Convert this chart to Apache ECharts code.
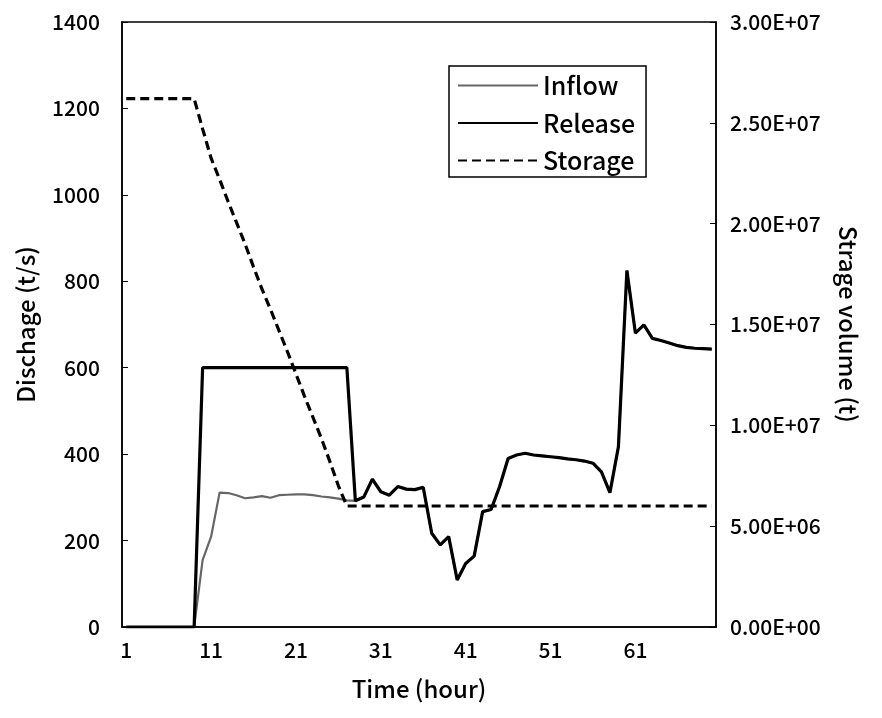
<!DOCTYPE html>
<html>
<head>
<meta charset="utf-8">
<script src="https://cdn.jsdelivr.net/npm/echarts@6/dist/echarts.min.js"></script>
<style>
html,body{margin:0;padding:0;background:#fff;}
#chart{width:882px;height:718px;}
</style>
</head>
<body>
<div id="chart"></div>
<script>
// ---- data ----
const hours = [];
for (let h = 1; h <= 70; h++) hours.push(String(h));

const inflow = [
  0,0,0,0,0,0,0,0,0,
  155,209,311,310,305,298,300,303,299,305,306,307,307,305,302,300,297,293,
  292,301,342,313,305,325,319,318,323,
  217,190,209,109,147,164,267,272,325,
  390,398,402,398,396,394,392,389,387,384,
  379,359,311,417,825,680,699,668,663,657,
  651,647,645,644,643
];

const release = [
  0,0,0,0,0,0,0,0,0,
  600,600,600,600,600,600,600,600,600,600,600,600,600,600,600,600,600,600,
  292,301,342,313,305,325,319,318,323,
  217,190,209,109,147,164,267,272,325,
  390,398,402,398,396,394,392,389,387,384,
  379,359,311,417,825,680,699,668,663,657,
  651,647,645,644,643
];

const storage = [
  2.62e7,2.62e7,2.62e7,2.62e7,2.62e7,2.62e7,2.62e7,2.62e7,2.62e7,
  2.47e7,2.325e7,2.22e7,2.11e7,2.005e7,1.90e7,1.785e7,1.675e7,1.575e7,
  1.47e7,1.365e7,1.255e7,1.145e7,1.04e7,9.35e6,8.2e6,7.0e6,6.0e6,
  6.0e6,6.0e6,6.0e6,6.0e6,6.0e6,6.0e6,6.0e6,6.0e6,6.0e6,6.0e6,
  6.0e6,6.0e6,6.0e6,6.0e6,6.0e6,6.0e6,6.0e6,6.0e6,6.0e6,6.0e6,
  6.0e6,6.0e6,6.0e6,6.0e6,6.0e6,6.0e6,6.0e6,6.0e6,6.0e6,6.0e6,
  6.0e6,6.0e6,6.0e6,6.0e6,6.0e6,6.0e6,6.0e6,6.0e6,6.0e6,6.0e6,
  6.0e6,6.0e6,6.0e6
];

const seriesNames = ['Inflow', 'Release', 'Storage'];
const xTitle = 'Time (hour)';
const yLeftTitle = 'Dischage (t/s)';
const yRightTitle = 'Strage volume (t)';

// ---- chart ----
function sci(v) {
  if (v === 0) return '0.00E+00';
  const e = Math.floor(Math.log10(Math.abs(v)));
  const m = v / Math.pow(10, e);
  return m.toFixed(2) + 'E' + (e >= 0 ? '+' : '-') + String(Math.abs(e)).padStart(2, '0');
}

const FONT = '"Noto Sans CJK JP", "Noto Sans", sans-serif';
const tick = { color: '#000', fontFamily: FONT, fontSize: 21, fontWeight: 500 };
const title = { color: '#000', fontFamily: FONT, fontSize: 24, fontWeight: 500 };

const chart = echarts.init(document.getElementById('chart'), null, { renderer: 'canvas' });
chart.setOption({
  animation: false,
  backgroundColor: '#fff',
  textStyle: { fontFamily: FONT, color: '#000' },
  grid: {
    left: 122, right: 166, top: 22, bottom: 91,
    show: true, borderColor: '#000', borderWidth: 1.5, containLabel: false
  },
  legend: {
    data: seriesNames,
    orient: 'vertical',
    left: 449, top: 66,
    itemWidth: 80, itemHeight: 25, itemGap: 12.5,
    padding: [7, 11, 4, 8],
    borderColor: '#000', borderWidth: 1.5,
    backgroundColor: '#fff',
    itemStyle: { color: 'rgba(0,0,0,0)', borderWidth: 0, opacity: 0 },
    textStyle: { color: '#000', fontFamily: FONT, fontSize: 25, fontWeight: 500 }
  },
  xAxis: {
    type: 'category',
    data: hours,
    boundaryGap: true,
    name: xTitle,
    nameLocation: 'middle',
    nameGap: 50,
    nameTextStyle: title,
    axisLine: { lineStyle: { color: '#000', width: 1.5 } },
    axisTick: { inside: true, interval: 0, length: 6, lineStyle: { color: '#000', width: 1 } },
    axisLabel: Object.assign({ interval: 9, margin: 13 }, tick),
    splitLine: { show: false }
  },
  yAxis: [
    {
      type: 'value', min: 0, max: 1400, interval: 200,
      name: yLeftTitle, nameLocation: 'middle', nameGap: 84,
      nameTextStyle: title,
      axisLine: { show: true, lineStyle: { color: '#000', width: 1.5 } },
      axisTick: { show: true, inside: true, length: 6, lineStyle: { color: '#000' } },
      axisLabel: Object.assign({ margin: 22, formatter: v => String(v) }, tick),
      splitLine: { show: false }
    },
    {
      type: 'value', min: 0, max: 3e7, interval: 5e6, position: 'right',
      name: yRightTitle, nameLocation: 'middle', nameGap: 120, nameRotate: -90,
      nameTextStyle: title,
      axisLine: { show: true, lineStyle: { color: '#000', width: 1.5 } },
      axisTick: { show: true, inside: true, length: 6, lineStyle: { color: '#000' } },
      axisLabel: Object.assign({ margin: 14, formatter: sci }, tick),
      splitLine: { show: false }
    }
  ],
  series: [
    {
      name: seriesNames[0], type: 'line', data: inflow, yAxisIndex: 0,
      symbol: 'none', z: 2,
      lineStyle: { color: '#666', width: 2.2 },
      itemStyle: { color: '#666' }
    },
    {
      name: seriesNames[1], type: 'line', data: release, yAxisIndex: 0,
      symbol: 'none', z: 3,
      lineStyle: { color: '#000', width: 3.2 },
      itemStyle: { color: '#000' }
    },
    {
      name: seriesNames[2], type: 'line', data: storage, yAxisIndex: 1,
      symbol: 'none', z: 4,
      lineStyle: { color: '#000', width: 3.2, type: [9, 5] },
      itemStyle: { color: '#000' }
    }
  ]
});
</script>
</body>
</html>
